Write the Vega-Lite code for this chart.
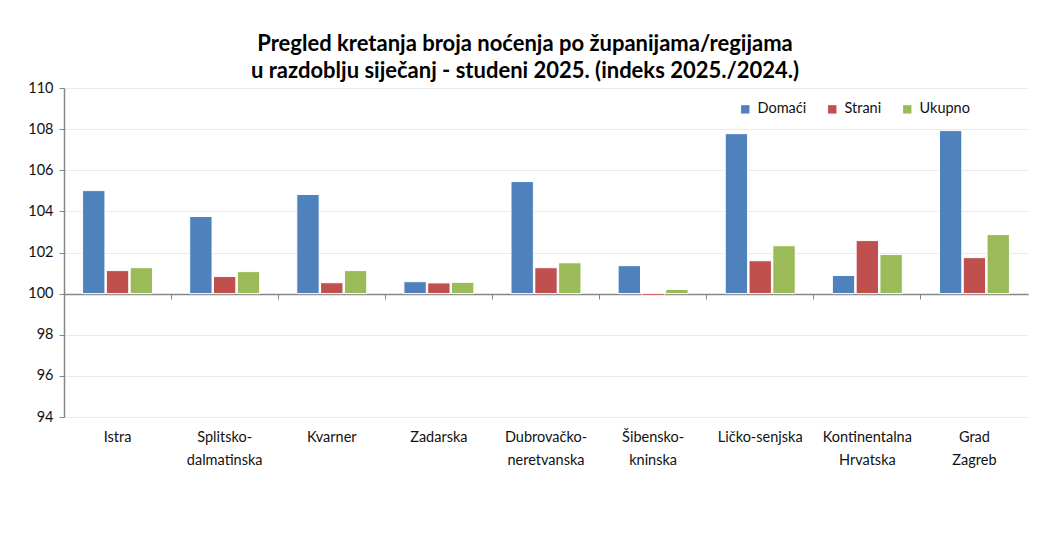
{
  "$schema": "https://vega.github.io/schema/vega-lite/v6.json",
  "width": 964,
  "height": 329,
  "autosize": {"type": "none"},
  "padding": {"left": 64, "top": 88, "right": 18, "bottom": 135},
  "background": "white",
  "title": {
    "text": ["Pregled kretanja broja noćenja po županijama/regijama", "u razdoblju siječanj - studeni 2025. (indeks 2025./2024.)"],
    "font": "Lato",
    "fontSize": 22,
    "fontWeight": "bold",
    "color": "#000000",
    "anchor": "middle",
    "dx": -21,
    "offset": -3,
    "lineHeight": 27
  },
  "config": {
    "view": {"stroke": null},
    "font": "Lato"
  },
  "data": {
    "values": [
      {"regija": "Istra", "serija": "Domaći", "indeks": 105.01},
      {"regija": "Istra", "serija": "Strani", "indeks": 101.12},
      {"regija": "Istra", "serija": "Ukupno", "indeks": 101.26},
      {"regija": "Splitsko-|dalmatinska", "serija": "Domaći", "indeks": 103.75},
      {"regija": "Splitsko-|dalmatinska", "serija": "Strani", "indeks": 100.83},
      {"regija": "Splitsko-|dalmatinska", "serija": "Ukupno", "indeks": 101.07},
      {"regija": "Kvarner", "serija": "Domaći", "indeks": 104.82},
      {"regija": "Kvarner", "serija": "Strani", "indeks": 100.53},
      {"regija": "Kvarner", "serija": "Ukupno", "indeks": 101.12},
      {"regija": "Zadarska", "serija": "Domaći", "indeks": 100.58},
      {"regija": "Zadarska", "serija": "Strani", "indeks": 100.52},
      {"regija": "Zadarska", "serija": "Ukupno", "indeks": 100.55},
      {"regija": "Dubrovačko-|neretvanska", "serija": "Domaći", "indeks": 105.45},
      {"regija": "Dubrovačko-|neretvanska", "serija": "Strani", "indeks": 101.26},
      {"regija": "Dubrovačko-|neretvanska", "serija": "Ukupno", "indeks": 101.5},
      {"regija": "Šibensko-|kninska", "serija": "Domaći", "indeks": 101.36},
      {"regija": "Šibensko-|kninska", "serija": "Strani", "indeks": 99.9},
      {"regija": "Šibensko-|kninska", "serija": "Ukupno", "indeks": 100.2},
      {"regija": "Ličko-senjska", "serija": "Domaći", "indeks": 107.78},
      {"regija": "Ličko-senjska", "serija": "Strani", "indeks": 101.6},
      {"regija": "Ličko-senjska", "serija": "Ukupno", "indeks": 102.33},
      {"regija": "Kontinentalna|Hrvatska", "serija": "Domaći", "indeks": 100.88},
      {"regija": "Kontinentalna|Hrvatska", "serija": "Strani", "indeks": 102.58},
      {"regija": "Kontinentalna|Hrvatska", "serija": "Ukupno", "indeks": 101.9},
      {"regija": "Grad|Zagreb", "serija": "Domaći", "indeks": 107.93},
      {"regija": "Grad|Zagreb", "serija": "Strani", "indeks": 101.75},
      {"regija": "Grad|Zagreb", "serija": "Ukupno", "indeks": 102.87}
    ]
  },
  "layer": [
    {
      "mark": {"type": "bar", "stroke": "white", "strokeWidth": 1},
      "encoding": {
        "x": {
          "field": "regija",
          "type": "nominal",
          "sort": null,
          "scale": {"paddingInner": 0, "paddingOuter": 0},
          "axis": {
            "title": null,
            "labelAngle": 0,
            "labelExpr": "split(datum.label, '|')",
            "labelFont": "Lato",
            "labelFontSize": 14.5,
            "labelColor": "#111111",
            "labelLineHeight": 23,
            "labelBaseline": "top",
            "offset": -123,
            "bandPosition": 0,
            "labelOffset": 0,
            "tickSize": 5,
            "tickColor": "#868686",
            "domainColor": "#868686",
            "domainWidth": 1.5,
            "labelPadding": 131,
            "labelLimit": 200,
            "grid": false
          }
        },
        "xOffset": {
          "field": "serija",
          "type": "nominal",
          "scale": {"paddingInner": 0.06, "paddingOuter": 0.78}
        },
        "y": {
          "field": "indeks",
          "type": "quantitative",
          "scale": {"domain": [94, 110], "nice": false, "zero": false},
          "axis": {
            "title": null,
            "values": [94, 96, 98, 100, 102, 104, 106, 108, 110],
            "labelFont": "Lato",
            "labelFontSize": 14.5,
            "labelColor": "#111111",
            "labelPadding": 6,
            "tickSize": 5,
            "tickColor": "#868686",
            "domainColor": "#868686",
            "domainWidth": 1.5,
            "gridColor": "#eaeaea",
            "gridWidth": 1
          }
        },
        "y2": {"datum": 100},
        "color": {
          "field": "serija",
          "type": "nominal",
          "scale": {"domain": ["Domaći", "Strani", "Ukupno"], "range": ["#4F81BD", "#C0504D", "#9BBB59"]},
          "legend": {
            "title": null,
            "orient": "none",
            "legendX": 674,
            "legendY": 14,
            "direction": "horizontal",
            "symbolType": "square",
            "symbolSize": 70,
            "symbolStrokeWidth": 0,
            "labelFont": "Lato",
            "labelFontSize": 14.5,
            "labelColor": "#111111",
            "columnPadding": 18,
            "labelOffset": 5
          }
        }
      }
    }
  ]
}
